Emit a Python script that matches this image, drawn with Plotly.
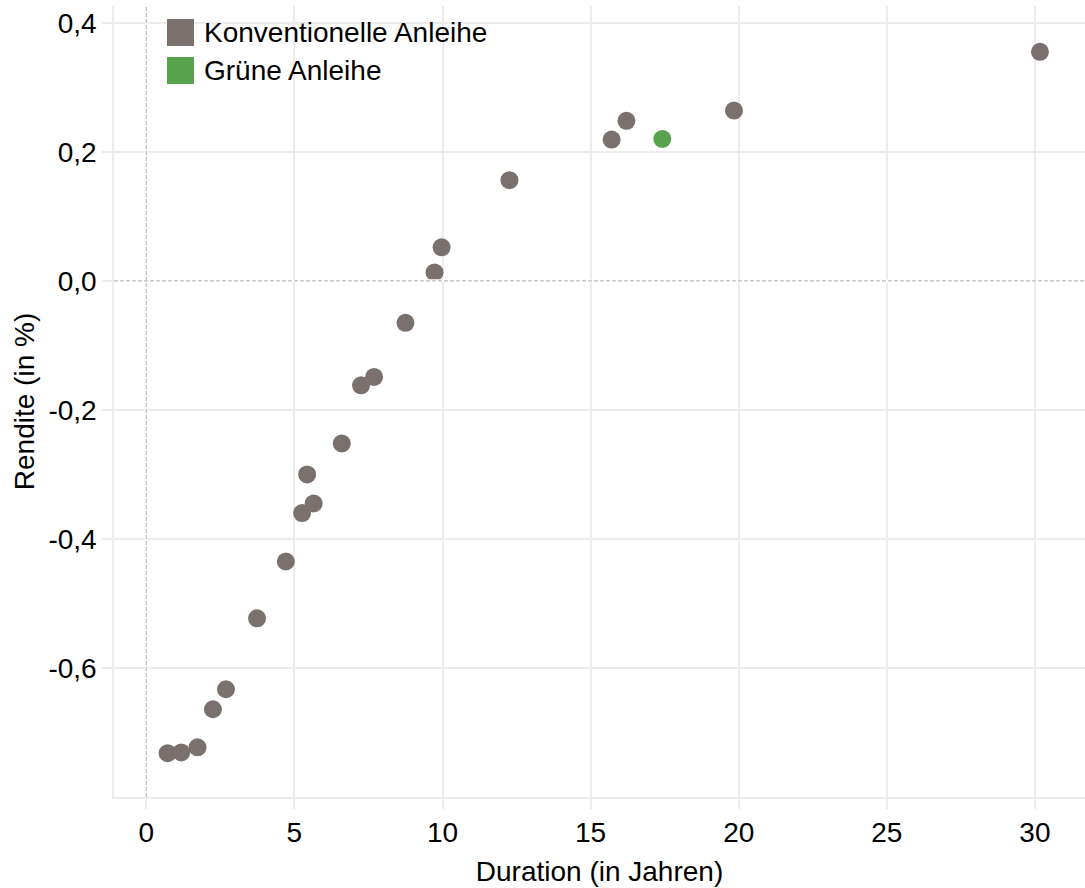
import plotly.graph_objects as go

# Konventionelle Bundesanleihen: Duration (Jahre) und Rendite (%)
conv_duration = [0.72, 1.18, 1.73, 2.25, 2.69, 3.74, 4.71, 5.26, 5.43, 5.65,
                 6.60, 7.25, 7.69, 8.75, 9.73, 9.97, 12.26, 15.71, 16.21,
                 19.84, 30.17]
conv_yield = [-0.732, -0.731, -0.723, -0.664, -0.633, -0.523, -0.435, -0.360,
              -0.300, -0.345, -0.252, -0.162, -0.149, -0.065, 0.013, 0.052,
              0.156, 0.219, 0.248, 0.264, 0.355]

# Grüne Bundesanleihe
green_duration = [17.42]
green_yield = [0.220]

series_names = ["Konventionelle Anleihe", "Grüne Anleihe"]
series_colors = ["#7a716e", "#58a14d"]

x_ticks = [0, 5, 10, 15, 20, 25, 30]
y_ticks = [-0.6, -0.4, -0.2, 0.0, 0.2, 0.4]
y_tick_labels = ["-0,6", "-0,4", "-0,2", "0,0", "0,2", "0,4"]

W, H = 1085, 888
ML, MR, MT, MB = 114, 0, 6, 91
PW, PH = W - ML - MR, H - MT - MB


def px_x(px):
    return (px - ML) / PW


def px_y(py):
    return 1 - (py - MT) / PH


FONT = "Liberation Sans, Arial, sans-serif"
GRID = "#ececec"

fig = go.Figure()

# dashed reference lines at x = 0 and y = 0, each over a white line that
# hides the regular grid line underneath
for dash, color, width in (("solid", "white", 3), ("4px,2px", "#bbbbbb", 1.2)):
    fig.add_shape(type="line", xref="x", yref="paper", x0=0, x1=0, y0=0, y1=1,
                  line=dict(color=color, width=width, dash=dash),
                  layer="above")
    fig.add_shape(type="line", xref="paper", yref="y", x0=0, x1=1, y0=0, y1=0,
                  line=dict(color=color, width=width, dash=dash),
                  layer="above")

fig.add_trace(go.Scatter(
    x=conv_duration, y=conv_yield, mode="markers", name=series_names[0],
    marker=dict(size=18, color=series_colors[0], line=dict(width=0)),
    showlegend=False,
))
fig.add_trace(go.Scatter(
    x=green_duration, y=green_yield, mode="markers", name=series_names[1],
    marker=dict(size=18, color=series_colors[1], line=dict(width=0)),
    showlegend=False,
))

# legend: coloured squares with labels
for i, (name, color) in enumerate(zip(series_names, series_colors)):
    top = 19 + i * 38
    fig.add_shape(type="rect", xref="paper", yref="paper",
                  x0=px_x(167), x1=px_x(194), y0=px_y(top + 27), y1=px_y(top),
                  fillcolor=color, line=dict(width=0))
    fig.add_annotation(xref="paper", yref="paper", x=px_x(202),
                       y=px_y(top + 13.5), text=name, showarrow=False,
                       xanchor="left", yanchor="middle",
                       font=dict(family=FONT, size=28, color="#000000"))

fig.update_layout(
    width=W, height=H,
    margin=dict(l=ML, r=MR, t=MT, b=MB),
    paper_bgcolor="white", plot_bgcolor="white",
    font=dict(family=FONT, size=28, color="#000000"),
    showlegend=False,
)
fig.update_xaxes(
    range=[-1.09, 31.69], tickvals=x_ticks,
    showgrid=True, gridcolor=GRID, gridwidth=1.5,
    zeroline=False, showline=True, linecolor=GRID, linewidth=1.5,
    ticks="outside", ticklen=10, tickcolor=GRID, tickwidth=1.5,
    tickfont=dict(size=28),
    title=dict(text="Duration (in Jahren)", font=dict(size=28), standoff=14),
)
fig.update_yaxes(
    range=[-0.8, 0.426], tickvals=y_ticks, ticktext=y_tick_labels,
    showgrid=True, gridcolor=GRID, gridwidth=1.5,
    zeroline=False, showline=True, linecolor=GRID, linewidth=1.5,
    ticks="outside", ticklen=10, tickcolor=GRID, tickwidth=1.5,
    tickfont=dict(size=28),
    title=dict(text="Rendite (in %)", font=dict(size=28), standoff=6),
)

fig.write_html("out.html")
